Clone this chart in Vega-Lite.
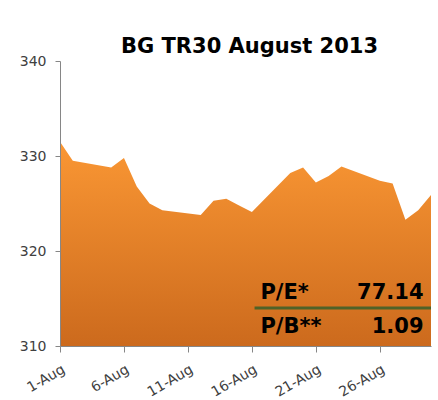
{
  "$schema": "https://vega.github.io/schema/vega-lite/v6.json",
  "width": 371,
  "height": 285,
  "autosize": "none",
  "padding": {"left": 60, "top": 61, "right": 7, "bottom": 54},
  "background": "white",
  "config": {"view": {"stroke": null}, "axisX": {"labelExpr": "utcFormat(datum.value, '%-d-%b')"}},
  "title": {
    "text": "BG TR30 August 2013",
    "font": "DejaVu Sans",
    "fontSize": 21,
    "fontWeight": "bold",
    "color": "#000000",
    "anchor": "middle",
    "frame": "group",
    "baseline": "alphabetic",
    "offset": -20,
    "dx": 4
  },
  "datasets": {
    "index": [
      {"date": "2013-08-01", "value": 331.5},
      {"date": "2013-08-02", "value": 329.5},
      {"date": "2013-08-05", "value": 328.8},
      {"date": "2013-08-06", "value": 329.8},
      {"date": "2013-08-07", "value": 326.8},
      {"date": "2013-08-08", "value": 325.0},
      {"date": "2013-08-09", "value": 324.3},
      {"date": "2013-08-12", "value": 323.8},
      {"date": "2013-08-13", "value": 325.3},
      {"date": "2013-08-14", "value": 325.5},
      {"date": "2013-08-15", "value": 324.8},
      {"date": "2013-08-16", "value": 324.1},
      {"date": "2013-08-19", "value": 328.2},
      {"date": "2013-08-20", "value": 328.8},
      {"date": "2013-08-21", "value": 327.2},
      {"date": "2013-08-22", "value": 327.9},
      {"date": "2013-08-23", "value": 328.9},
      {"date": "2013-08-26", "value": 327.4},
      {"date": "2013-08-27", "value": 327.1},
      {"date": "2013-08-28", "value": 323.3},
      {"date": "2013-08-29", "value": 324.3},
      {"date": "2013-08-30", "value": 325.9}
    ],
    "ratios": [
      {"metric": "P/E*", "number": "77.14"},
      {"metric": "P/B**", "number": "1.09"}
    ]
  },
  "layer": [
    {
      "data": {"name": "index"},
      "mark": {
        "type": "area",
        "color": {
          "gradient": "linear",
          "x1": 0, "y1": 0, "x2": 0, "y2": 1,
          "stops": [
            {"offset": 0, "color": "#FA9734"},
            {"offset": 1, "color": "#CC6A1D"}
          ]
        }
      },
      "encoding": {
        "x": {
          "field": "date",
          "type": "temporal",
          "scale": {
            "type": "utc",
            "domain": [
              {"year": 2013, "month": 8, "date": 1, "utc": true},
              {"year": 2013, "month": 8, "date": 30, "utc": true}
            ]
          },
          "axis": {
            "title": null,
            "grid": false,
            "labelExpr": "utcFormat(datum.value, '%-d-%b')",
            "values": [
              {"year": 2013, "month": 8, "date": 1, "utc": true},
              {"year": 2013, "month": 8, "date": 6, "utc": true},
              {"year": 2013, "month": 8, "date": 11, "utc": true},
              {"year": 2013, "month": 8, "date": 16, "utc": true},
              {"year": 2013, "month": 8, "date": 21, "utc": true},
              {"year": 2013, "month": 8, "date": 26, "utc": true}
            ],
            "labelAngle": -30,
            "labelAlign": "right",
            "labelBaseline": "top",
            "labelFont": "DejaVu Sans",
            "labelFontSize": 14,
            "labelColor": "#404040",
            "labelPadding": 10,
            "domainColor": "#868686",
            "tickColor": "#868686",
            "tickSize": 6,
            "labelOverlap": false,
            "labelFlush": false,
            "zindex": 1
          }
        },
        "y": {
          "field": "value",
          "type": "quantitative",
          "scale": {"domain": [310, 340], "zero": false, "nice": false},
          "axis": {
            "title": null,
            "grid": false,
            "values": [310, 320, 330, 340],
            "labelFont": "DejaVu Sans",
            "labelFontSize": 14,
            "labelColor": "#404040",
            "labelPadding": 9,
            "domainColor": "#868686",
            "tickColor": "#868686",
            "tickSize": 5,
            "zindex": 1
          }
        },
        "y2": {"datum": 310}
      }
    },
    {
      "data": {"values": [{}]},
      "mark": {"type": "rule", "color": "#4F6228", "strokeWidth": 3},
      "encoding": {
        "x": {"datum": {"year": 2013, "month": 8, "date": 16, "hours": 5, "utc": true}, "type": "temporal"},
        "x2": {"datum": {"year": 2013, "month": 8, "date": 30, "utc": true}},
        "y": {"datum": 314.0, "type": "quantitative"}
      }
    },
    {
      "data": {"name": "ratios"},
      "transform": [{"filter": "datum.metric === 'P/E*'"}],
      "layer": [
        {
          "mark": {"type": "text", "font": "DejaVu Sans", "fontSize": 21, "fontWeight": "bold", "color": "#000000", "align": "left", "baseline": "alphabetic"},
          "encoding": {
            "x": {"datum": {"year": 2013, "month": 8, "date": 16, "hours": 16, "utc": true}, "type": "temporal"},
            "y": {"datum": 314.92, "type": "quantitative"},
            "text": {"field": "metric"}
          }
        },
        {
          "mark": {"type": "text", "font": "DejaVu Sans", "fontSize": 21, "fontWeight": "bold", "color": "#000000", "align": "right", "baseline": "alphabetic"},
          "encoding": {
            "x": {"datum": {"year": 2013, "month": 8, "date": 29, "hours": 10, "utc": true}, "type": "temporal"},
            "y": {"datum": 314.92, "type": "quantitative"},
            "text": {"field": "number"}
          }
        }
      ]
    },
    {
      "data": {"name": "ratios"},
      "transform": [{"filter": "datum.metric === 'P/B**'"}],
      "layer": [
        {
          "mark": {"type": "text", "font": "DejaVu Sans", "fontSize": 21, "fontWeight": "bold", "color": "#000000", "align": "left", "baseline": "alphabetic"},
          "encoding": {
            "x": {"datum": {"year": 2013, "month": 8, "date": 16, "hours": 16, "utc": true}, "type": "temporal"},
            "y": {"datum": 311.34, "type": "quantitative"},
            "text": {"field": "metric"}
          }
        },
        {
          "mark": {"type": "text", "font": "DejaVu Sans", "fontSize": 21, "fontWeight": "bold", "color": "#000000", "align": "right", "baseline": "alphabetic"},
          "encoding": {
            "x": {"datum": {"year": 2013, "month": 8, "date": 29, "hours": 10, "utc": true}, "type": "temporal"},
            "y": {"datum": 311.34, "type": "quantitative"},
            "text": {"field": "number"}
          }
        }
      ]
    }
  ]
}
